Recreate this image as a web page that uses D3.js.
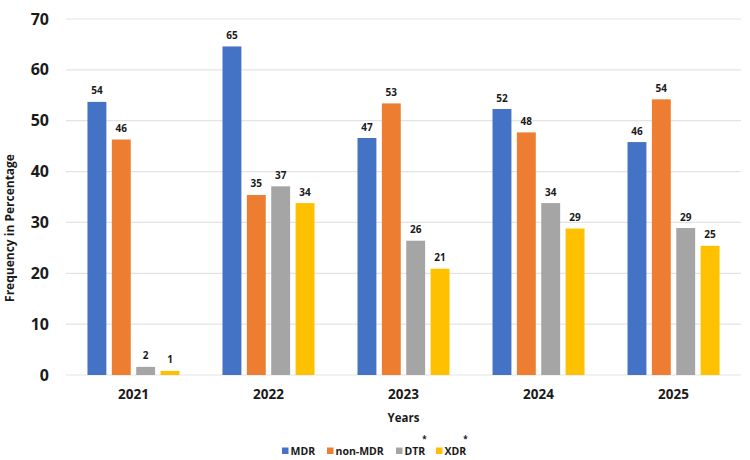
<!DOCTYPE html>
<html>
<head>
<meta charset="utf-8">
<script src="https://cdn.jsdelivr.net/npm/d3@7"></script>
<style>
  body { margin: 0; background: #fff; }
  text { font-family: "Open Sans", sans-serif; font-weight: bold; fill: #1a1a1a; }
</style>
</head>
<body>
<svg width="750" height="460"></svg>
<script>
const width = 750;
const height = 460;

// data
const years = ["2021", "2022", "2023", "2024", "2025"];
const series = ["MDR", "non-MDR", "DTR", "XDR"];
const colors = ["#4472C4", "#ED7D31", "#A5A5A5", "#FFC000"];
const mdr = [53.7, 64.6, 46.6, 52.3, 45.8];
const nonMdr = [46.3, 35.4, 53.4, 47.7, 54.2];
const dtr = [1.6, 37.1, 26.4, 33.8, 28.9];
const xdr = [0.8, 33.8, 20.9, 28.8, 25.4];
const yTicks = [0, 10, 20, 30, 40, 50, 60, 70];
const starred = ["DTR", "XDR"];

const valuesBySeries = [mdr, nonMdr, dtr, xdr];
const rows = years.map((yr, i) => ({
  year: yr,
  vals: series.map((s, j) => ({ key: s, value: valuesBySeries[j][i], color: colors[j] }))
}));

const plotLeft = 66, plotRight = 741, plotTop = 19, plotBottom = 375;

const x0 = d3.scaleBand()
  .domain(years)
  .range([plotLeft, plotRight])
  .paddingInner(0.3185)
  .paddingOuter(0.159);

const x1 = d3.scaleBand()
  .domain(series)
  .range([0, x0.bandwidth()])
  .paddingInner(0.224)
  .paddingOuter(0);

const y = d3.scaleLinear()
  .domain([0, 70])
  .range([plotBottom, plotTop]);

const svg = d3.select("svg");

// grid lines
svg.append("g")
  .selectAll("line")
  .data(yTicks)
  .join("line")
    .attr("x1", plotLeft)
    .attr("x2", plotRight)
    .attr("y1", d => y(d))
    .attr("y2", d => y(d))
    .attr("stroke", "#e3e3e3")
    .attr("stroke-width", 1.2);

// y axis labels
const yAxis = svg.append("g")
  .attr("transform", `translate(${plotLeft}, 0)`)
  .call(d3.axisLeft(y).tickValues(yTicks).tickSize(0).tickPadding(17));
yAxis.select(".domain").remove();
yAxis.selectAll("text")
  .style("font-size", "16px")
  .style("font-family", "'Open Sans', sans-serif")
  .style("font-weight", "bold")
  .attr("fill", "#111");

// x axis labels
const xAxis = svg.append("g")
  .attr("transform", `translate(0, ${plotBottom})`)
  .call(d3.axisBottom(x0).tickSize(0).tickPadding(14));
xAxis.select(".domain").remove();
xAxis.selectAll("text")
  .style("font-size", "13.5px")
  .style("font-family", "'Open Sans', sans-serif")
  .style("font-weight", "bold")
  .attr("fill", "#111");

// bars
const groups = svg.append("g")
  .selectAll("g")
  .data(rows)
  .join("g")
    .attr("transform", d => `translate(${x0(d.year)}, 0)`);

groups.selectAll("rect")
  .data(d => d.vals)
  .join("rect")
    .attr("x", d => x1(d.key))
    .attr("y", d => y(d.value))
    .attr("width", x1.bandwidth())
    .attr("height", d => y(0) - y(d.value))
    .attr("fill", d => d.color);

groups.selectAll("text")
  .data(d => d.vals)
  .join("text")
    .attr("x", d => x1(d.key) + x1.bandwidth() / 2)
    .attr("y", d => y(d.value) - 7.5)
    .attr("text-anchor", "middle")
    .style("font-size", "10px")
    .text(d => Math.round(d.value));

// axis titles
svg.append("text")
  .attr("x", (plotLeft + plotRight) / 2)
  .attr("y", 422)
  .attr("text-anchor", "middle")
  .style("font-size", "11.5px")
  .text("Years");

svg.append("text")
  .attr("transform", "rotate(-90)")
  .attr("x", -228)
  .attr("y", 14)
  .attr("text-anchor", "middle")
  .style("font-size", "12px")
  .text("Frequency in Percentage");

// legend
const legendX = [282, 327, 396, 436];
const legend = svg.append("g")
  .selectAll("g")
  .data(series)
  .join("g")
    .attr("transform", (d, i) => `translate(${legendX[i]}, 451)`);

legend.append("rect")
  .attr("x", 0)
  .attr("y", -3.5)
  .attr("width", 6.5)
  .attr("height", 6.5)
  .attr("fill", (d, i) => colors[i]);

legend.append("text")
  .attr("x", 8.5)
  .attr("y", 4)
  .style("font-size", "10.5px")
  .text(d => d)
  .each(function(d) {
    if (starred.includes(d)) {
      const w = this.getComputedTextLength();
      d3.select(this.parentNode).append("text")
        .attr("x", 8.5 + w - 3)
        .attr("y", -9.5)
        .style("font-size", "8px")
        .text("*");
    }
  });
</script>
</body>
</html>
